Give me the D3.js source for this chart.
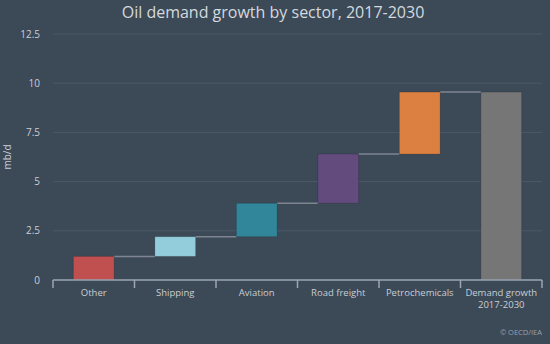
<!DOCTYPE html>
<html>
<head>
<meta charset="utf-8">
<script src="https://cdn.jsdelivr.net/npm/d3@7"></script>
<style>
  body { margin: 0; background: #3c4957; }
  svg { display: block; font-family: "Open Sans", "Noto Sans", sans-serif; }
</style>
</head>
<body>
<div id="chart"></div>
<script>
// Chart data.
let categories = ["Other", "Shipping", "Aviation", "Road freight", "Petrochemicals", "Demand growth\n2017-2030"]
let increments = [1.2, 1.0, 1.7, 2.5, 3.15]
let barColours = ["#c0504f", "#93cddc", "#32869a", "#634c7d", "#dc8041", "#767676"]
let yTicks = [0, 2.5, 5, 7.5, 10, 12.5]
let yTickLabels = ["0", "2.5", "5", "7.5", "10", "12.5"]

let width = 550
let height = 344
let margins = {"left": 53, "right": 8, "top": 34, "bottom": 64};

// Build waterfall rows: start/end of each bar.
let rows = []
let running = 0
increments.forEach(function(v, i) {
    rows.push({"name": categories[i], "start": running, "end": running + v, "colour": barColours[i]})
    running += v
})
rows.push({"name": categories[5], "start": 0, "end": running, "colour": barColours[5]})

let svg = d3.select("#chart").append("svg")
    .attr("width", width)
    .attr("height", height)

svg.append("rect").attr("width", width).attr("height", height).attr("fill", "#3c4957")

let g = svg.append("g").attr("transform", "translate(" + margins.left + "," + margins.top + ")")
let innerW = width - margins.left - margins.right
let innerH = height - margins.top - margins.bottom

let x = d3.scaleBand().domain(categories).range([0, innerW]).paddingInner(0.5).paddingOuter(0.25)
let xEdge = d3.scaleBand().domain(categories).range([0, innerW])
let y = d3.scaleLinear().domain([0, 12.5]).range([innerH, 0])

// Gridlines.
g.append("g").selectAll("line").data(yTicks.filter(d => d > 0)).enter().append("line")
    .attr("x1", 0).attr("x2", innerW)
    .attr("y1", d => y(d)).attr("y2", d => y(d))
    .attr("stroke", "#4b5968").attr("stroke-width", 1)

// Y tick labels.
g.append("g").selectAll("text").data(yTicks).enter().append("text")
    .attr("x", -13).attr("y", d => y(d)).attr("dy", "0.35em")
    .attr("text-anchor", "end")
    .attr("fill", "#c8ced4").style("font-size", "10px")
    .text((d, i) => yTickLabels[i])

// Y axis title.
svg.append("text")
    .attr("transform", "translate(11,157) rotate(-90)")
    .attr("text-anchor", "middle")
    .attr("fill", "#c8ced4").style("font-size", "10px")
    .text("mb/d")

// Connector lines.
g.append("g").selectAll("line").data(rows.slice(0, rows.length - 1)).enter().append("line")
    .attr("x1", d => x(d.name) + x.bandwidth())
    .attr("x2", (d, i) => x(rows[i + 1].name))
    .attr("y1", d => y(d.end)).attr("y2", d => y(d.end))
    .attr("stroke", "#7d8690").attr("stroke-width", 1.5)

// Bars.
g.append("g").selectAll("rect").data(rows).enter().append("rect")
    .attr("x", d => x(d.name))
    .attr("width", x.bandwidth())
    .attr("y", d => y(d.end))
    .attr("height", d => y(d.start) - y(d.end))
    .attr("fill", d => d.colour)
    .attr("stroke", "rgba(0,0,0,0.15)").attr("stroke-width", 1)

// X axis line and boundary ticks.
let axis = g.append("g").attr("transform", "translate(0," + innerH + ")")
axis.append("line").attr("x1", 0).attr("x2", innerW).attr("stroke", "#9aa6b3").attr("stroke-width", 1.5)
let edges = categories.map(c => xEdge(c)).concat([innerW])
axis.selectAll("line.tick").data(edges).enter().append("line")
    .attr("class", "tick")
    .attr("x1", d => d).attr("x2", d => d)
    .attr("y1", 0).attr("y2", 8)
    .attr("stroke", "#9aa6b3").attr("stroke-width", 1.5)

// Category labels.
axis.selectAll("text").data(categories).enter().append("text")
    .attr("x", d => xEdge(d) + xEdge.bandwidth() / 2)
    .attr("y", 16)
    .attr("text-anchor", "middle")
    .attr("fill", "#c8ced4").style("font-size", "9.5px")
    .each(function(d) {
        let lines = d.split("\n")
        d3.select(this).selectAll("tspan").data(lines).enter().append("tspan")
            .attr("x", xEdge(d) + xEdge.bandwidth() / 2)
            .attr("dy", (l, i) => i === 0 ? 0 : "1.25em")
            .text(l => l)
    })

// Title.
svg.append("text")
    .attr("x", 273).attr("y", 18)
    .attr("text-anchor", "middle")
    .attr("fill", "#d4d9de").style("font-size", "16px")
    .text("Oil demand growth by sector, 2017-2030")

// Source note.
svg.append("text")
    .attr("x", 542).attr("y", 335)
    .attr("text-anchor", "end")
    .attr("fill", "#9aa3ad").style("font-size", "7.5px")
    .text("© OECD/IEA")
</script>
</body>
</html>
